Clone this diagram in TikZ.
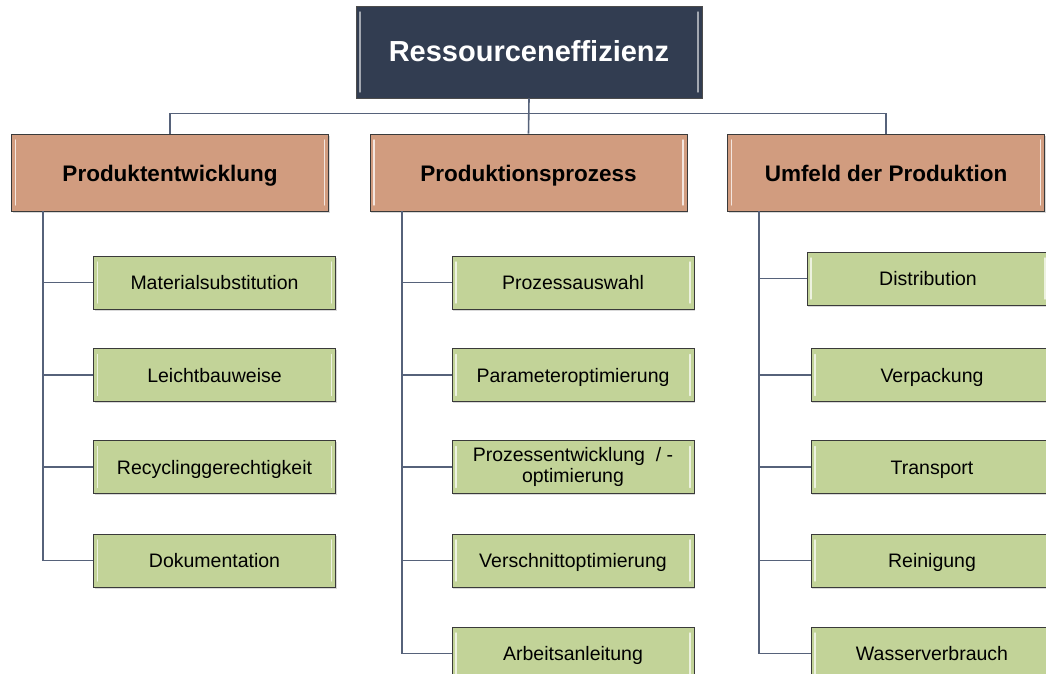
\documentclass[tikz,border=0pt]{standalone}
\usepackage{fontspec}
\setmainfont{Liberation Sans}
\usetikzlibrary{shadows}
\definecolor{titlefill}{HTML}{323D51}
\definecolor{catfill}{HTML}{D19C7F}
\definecolor{leaffill}{HTML}{C2D398}
\definecolor{connline}{HTML}{56627A}
\definecolor{boxedge}{HTML}{3A3A3A}
\tikzset{
  bevel/.style={path picture={
    \draw[#1, line width=1.4pt, line cap=round]
      ([xshift=4pt,yshift=-6pt]path picture bounding box.north west) --
      ([xshift=4pt,yshift=6pt]path picture bounding box.south west);
    \draw[#1, line width=1.4pt, line cap=round]
      ([xshift=-4pt,yshift=-6pt]path picture bounding box.north east) --
      ([xshift=-4pt,yshift=6pt]path picture bounding box.south east);}},
  basebox/.style={rectangle, draw=boxedge, line width=0.9pt, inner sep=2pt,
    drop shadow={opacity=.3, shadow xshift=1pt, shadow yshift=-1.5pt}},
  titlebox/.style={basebox, fill=titlefill, draw=black!70, text=white,
    minimum width=346pt, minimum height=92pt, text height=25.5pt, text depth=5.8pt,
    font=\fontsize{29}{32}\selectfont\bfseries, bevel=white!55!titlefill},
  catbox/.style={basebox, fill=catfill, minimum width=317pt, minimum height=77pt,
    text height=21.5pt, text depth=4.5pt,
    font=\fontsize{22.5}{25}\selectfont\bfseries, bevel=white!75!catfill},
  leafbox/.style={basebox, fill=leaffill, minimum width=242pt, minimum height=53pt,
    text height=17.9pt, text depth=3.9pt,
    align=center, font=\fontsize{19.5}{20.5}\selectfont, bevel=white!70!leaffill},
  conn/.style={draw=connline, line width=1.6pt}
}
\begin{document}
\begin{tikzpicture}[x=1pt, y=-1pt]
  \useasboundingbox (0,0) rectangle (1046,674);
  \clip (0,0) rectangle (1046,674);

  % root and the three fields
  \node[titlebox] (root) at (529,52) {Ressourceneffizienz};
  \node[catbox] (c1) at (170,172.5) {Produktentwicklung};
  \node[catbox] (c2) at (528.5,172.5) {Produktionsprozess};
  \node[catbox] (c3) at (886,172.5) {Umfeld der Produktion};

  % measures, first field
  \node[leafbox] (a1) at (214.5,282.5) {Materialsubstitution};
  \node[leafbox] (a2) at (214.5,375) {Leichtbauweise};
  \node[leafbox] (a3) at (214.5,467) {Recyclinggerechtigkeit};
  \node[leafbox] (a4) at (214.5,560.5) {Dokumentation};

  % measures, second field
  \node[leafbox] (b1) at (573,282.5) {Prozessauswahl};
  \node[leafbox] (b2) at (573,375) {Parameteroptimierung};
  \node[leafbox, text height=, text depth=] (b3) at (573,467) {Prozessentwicklung~~/ -\\optimierung};
  \node[leafbox] (b4) at (573,560.5) {Verschnittoptimierung};
  \node[leafbox] (b5) at (573,653.5) {Arbeitsanleitung};

  % measures, third field
  \node[leafbox] (d1) at (928,278.5) {Distribution};
  \node[leafbox] (d2) at (932,375) {Verpackung};
  \node[leafbox] (d3) at (932,467) {Transport};
  \node[leafbox] (d4) at (932,560.5) {Reinigung};
  \node[leafbox] (d5) at (932,653.5) {Wasserverbrauch};

  % trunk positions below each field
  \coordinate (k1) at (43,211);
  \coordinate (k2) at (402,211);
  \coordinate (k3) at (759,211);

  % connectors from the root
  \draw[conn] (c1.north) -- ++(0,-20) -| (c3.north);
  \draw[conn] (root.south) -- (c2.north);

  % connectors to the measures
  \draw[conn] (k1) |- (a4.west);
  \foreach \n in {a1,a2,a3} \draw[conn] (\n.west) -- (\n.west -| k1);
  \draw[conn] (k2) |- (b5.west);
  \foreach \n in {b1,b2,b3,b4} \draw[conn] (\n.west) -- (\n.west -| k2);
  \draw[conn] (k3) |- (d5.west);
  \foreach \n in {d1,d2,d3,d4} \draw[conn] (\n.west) -- (\n.west -| k3);
\end{tikzpicture}
\end{document}
